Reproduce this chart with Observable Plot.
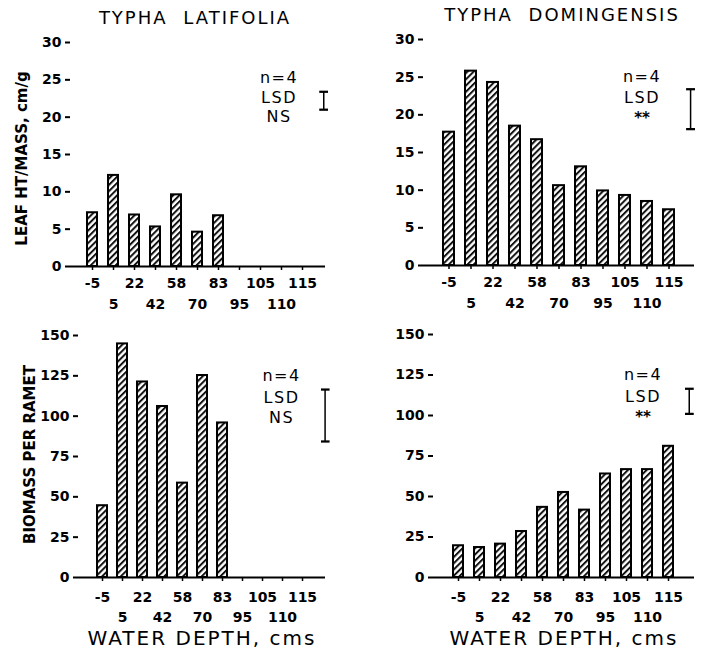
<!DOCTYPE html>
<html><head><meta charset="utf-8">
<script src="https://cdn.jsdelivr.net/npm/d3@7"></script>
<script src="https://cdn.jsdelivr.net/npm/@observablehq/plot@0.6"></script>
<style>
body{margin:0;background:#fff;}
#wrap{position:relative;width:702px;height:651px;background:#fff;overflow:hidden;}
#wrap svg.plotpanel{position:absolute;overflow:visible;}
</style></head><body>
<svg width="0" height="0" style="position:absolute">
<defs><pattern id="hatch" patternUnits="userSpaceOnUse" width="4.4" height="4.4" patternTransform="rotate(45)">
<rect width="4.4" height="4.4" fill="#fff"/><line x1="1" y1="0" x2="1" y2="4.4" stroke="#111" stroke-width="2"/></pattern></defs></svg>
<div id="wrap"></div>
<script>
// ---- data ----
const depths = ["-5","5","22","42","58","70","83","95","105","110","115"];
const latifoliaLeaf = [7.2, 12.2, 6.9, 5.3, 9.6, 4.6, 6.8, null, null, null, null];
const domingensisLeaf = [17.7, 25.8, 24.3, 18.5, 16.7, 10.6, 13.1, 9.9, 9.3, 8.5, 7.4];
const latifoliaBiomass = [44.5, 144.8, 121.2, 106, 58.5, 125.2, 95.8, null, null, null, null];
const domingensisBiomass = [19.6, 18.5, 20.6, 28.4, 43.3, 52.5, 41.6, 63.9, 66.6, 66.6, 81];
const leafTicks = [0, 5, 10, 15, 20, 25, 30];
const biomassTicks = [0, 25, 50, 75, 100, 125, 150];
const titles = ["TYPHA LATIFOLIA", "TYPHA DOMINGENSIS"];
const yLabels = ["LEAF HT/MASS, cm/g", "BIOMASS PER RAMET"];
const xLabel = "WATER DEPTH, cms";
const lsdLeafLat = {lo: 21.0, hi: 23.4, sig: "NS"};
const lsdLeafDom = {lo: 18.1, hi: 23.4, sig: "**"};
const lsdBioLat = {lo: 84.3, hi: 116.5, sig: "NS"};
const lsdBioDom = {lo: 101, hi: 116.5, sig: "**"};
const nLabel = "n=4";
const lsdLabel = "LSD";

const row1 = depths.filter((d, i) => i % 2 === 0);
const row2 = depths.filter((d, i) => i % 2 === 1);

function panel(cfg) {
  const {left, top, width, height, mt, mb, ml, mr, values, yDomain, yTicks, title, yLabel, yLabelDy, xLab, lsd, noteY, noteDx, lsdOff, pad1, pad2, titleDx} = cfg;
  const data = depths.map((d, i) => ({depth: d, value: values[i]})).filter(d => d.value != null);
  const step = (width - ml - mr) / 12;
  const notes = [
    {text: nLabel, y: noteY[0], w: "normal"},
    {text: lsdLabel, y: noteY[1], w: "normal"},
    {text: lsd.sig, y: noteY[2], w: lsd.sig === "**" ? "bold" : "normal"}
  ];
  const marks = [
    Plot.barY(data, {x: "depth", y: "value", fill: "url(#hatch)", stroke: "#000", strokeWidth: 2}),
    Plot.ruleY([0], {stroke: "#000", strokeWidth: 2}),
    Plot.axisY(yTicks, {tickSize: 5, tickPadding: 4, strokeWidth: 2, line: true, fontWeight: "bold", fontSize: 14, label: null}),
    Plot.axisX({tickSize: 4, strokeWidth: 1.5, tickFormat: () => "", label: null}),
    Plot.axisX(row1, {tickSize: 0, tickPadding: pad1, fontWeight: "bold", fontSize: 14, label: null}),
    Plot.axisX(row2, {tickSize: 0, tickPadding: pad2, fontWeight: "bold", fontSize: 14, label: null}),
    Plot.text(notes.filter(d => d.w === "normal"), {x: () => "110", y: "y", text: "text", dx: noteDx, fontSize: 16, fontWeight: "normal", lineAnchor: "middle"}),
    Plot.text(notes.filter(d => d.w === "bold"), {x: () => "110", y: "y", text: "text", dx: noteDx, fontSize: 15, fontWeight: "bold", lineAnchor: "middle"}),
    Plot.link([lsd], {x1: () => "115", x2: () => "115", y1: "lo", y2: "hi", dx: step + lsdOff, stroke: "#000", strokeWidth: 1.5, markerStart: "tick-x", markerEnd: "tick-x"})
  ];
  if (title) marks.push(Plot.text([title], {frameAnchor: "top", lineAnchor: "middle", dy: -24, dx: titleDx || 0, fontSize: 18, fontWeight: "normal"}));
  if (yLabel) marks.push(Plot.text([yLabel], {frameAnchor: "left", textAnchor: "middle", lineAnchor: "middle", rotate: -90, dx: -48, dy: yLabelDy, fontSize: 15, fontWeight: "bold"}));
  if (xLab) marks.push(Plot.text([xLab], {frameAnchor: "bottom", lineAnchor: "middle", dy: 61, fontSize: 20, fontWeight: "normal"}));
  const svg = Plot.plot({
    width, height, marginTop: mt, marginBottom: mb, marginLeft: ml, marginRight: mr,
    style: {fontFamily: "DejaVu Sans", color: "#000", background: "transparent"},
    x: {type: "band", domain: depths, paddingInner: 0.52, paddingOuter: 0.76, axis: null},
    y: {domain: yDomain, axis: null},
    marks
  });
  svg.classList.add("plotpanel");
  svg.style.left = left + "px";
  svg.style.top = top + "px";
  svg.querySelectorAll("text").forEach(t => {
    const s = t.textContent;
    if (titles.includes(s)) { t.style.letterSpacing = "2px"; t.style.wordSpacing = "8px"; }
    else if (s === nLabel || s === lsdLabel || s === "NS") { t.style.letterSpacing = "1.5px"; }
    else if (s === xLabel) { t.style.letterSpacing = "2px"; }
  });
  document.getElementById("wrap").appendChild(svg);
}

panel({left: 0, top: 0, width: 351, height: 310, mt: 42, mb: 44, ml: 70, mr: 26,
  values: latifoliaLeaf, yDomain: [0, 30], yTicks: leafTicks, title: titles[0], yLabel: yLabels[0], yLabelDy: 4,
  lsd: lsdLeafLat, noteY: [25.2, 22.6, 20.0], noteDx: -2.5, lsdOff: 0, pad1: 12, pad2: 33, titleDx: -3});
panel({left: 351, top: 0, width: 351, height: 310, mt: 39, mb: 45, ml: 72, mr: 8,
  values: domingensisLeaf, yDomain: [0, 30], yTicks: leafTicks, title: titles[1],
  lsd: lsdLeafDom, noteY: [25.1, 22.2, 19.5], noteDx: -5, lsdOff: -1, pad1: 12, pad2: 33, titleDx: 3});
panel({left: 0, top: 310, width: 351, height: 341, mt: 25, mb: 74, ml: 78, mr: 26,
  values: latifoliaBiomass, yDomain: [0, 150], yTicks: biomassTicks, title: "", yLabel: yLabels[1], yLabelDy: -2, xLab: xLabel,
  lsd: lsdBioLat, noteY: [125.2, 111.6, 99.2], noteDx: -1, lsdOff: 2, pad1: 15, pad2: 35});
panel({left: 351, top: 310, width: 351, height: 341, mt: 24, mb: 74, ml: 82, mr: 8,
  values: domingensisBiomass, yDomain: [0, 150], yTicks: biomassTicks, title: "", xLab: xLabel,
  lsd: lsdBioDom, noteY: [125.2, 111.6, 99.2], noteDx: -4.5, lsdOff: -1, pad1: 15, pad2: 35});
</script>
</body></html>
